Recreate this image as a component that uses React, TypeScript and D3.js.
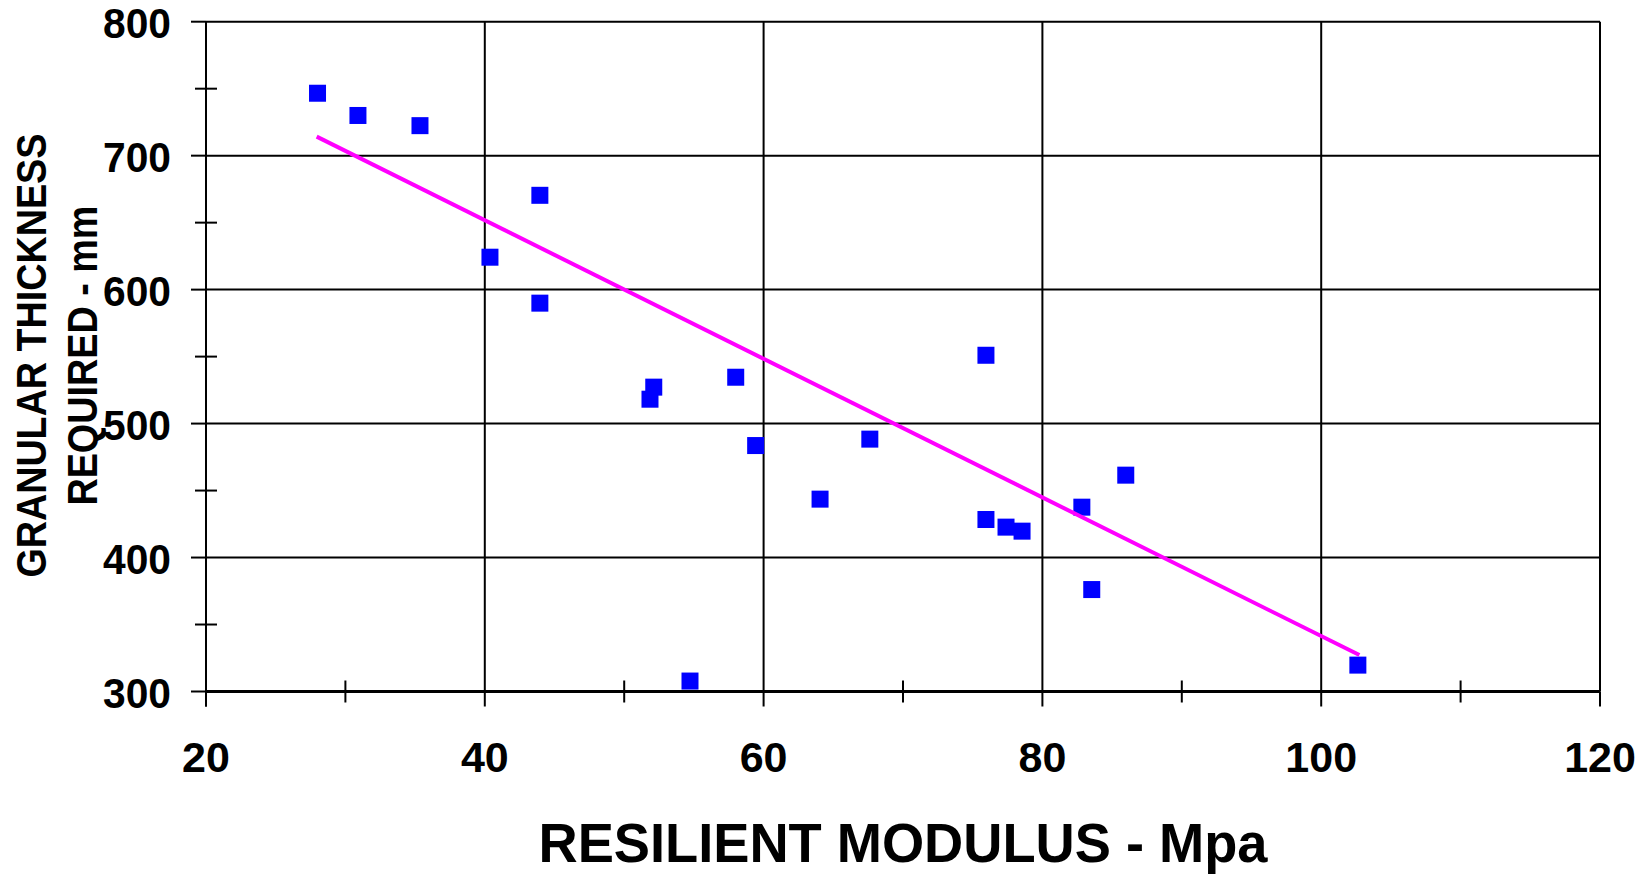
import React from "react";
import * as d3 from "d3";

const modulus = [28.0, 30.9, 35.35, 43.95, 40.37, 43.95, 52.12, 51.85, 58.0, 59.43, 67.62, 64.05, 75.95, 75.95, 77.39, 78.54, 54.72, 82.83, 85.98, 83.54, 102.63];
const thickness = [746.6, 730.0, 722.4, 670.4, 624.2, 589.9, 527.2, 518.2, 534.6, 483.6, 488.4, 443.6, 551.0, 428.4, 422.7, 419.7, 307.8, 437.6, 461.5, 376.1, 319.7];

const trendX = [27.94, 102.74];
const trendY = [714.2, 327.2];

const xMajorTicks = [20, 40, 60, 80, 100, 120];
const xMinorTicks = [30, 50, 70, 90, 110];
const yMajorTicks = [300, 400, 500, 600, 700, 800];
const yMinorTicks = [350, 450, 550, 650, 750];

const xTitle = "RESILIENT MODULUS - Mpa";
const yTitleLines = ["GRANULAR THICKNESS", "REQUIRED - mm"];

const W = 1646;
const H = 874;
const left = 206;
const right = 1600;
const top = 21.7;
const bottom = 691.5;

export default function App() {
  const x = d3.scaleLinear().domain([20, 120]).range([left, right]);
  const y = d3.scaleLinear().domain([300, 800]).range([bottom, top]);
  const line = d3
    .line<number>()
    .x((d, i) => x(trendX[i]))
    .y((d, i) => y(trendY[i]));
  const font = "'Liberation Sans', Arial, sans-serif";
  const ms = 17;

  return (
    <svg
      width={W}
      height={H}
      style={{ position: "absolute", left: 0, top: 0, background: "#fff" }}
      fontFamily={font}
      fontWeight="bold"
    >
      {yMajorTicks
        .filter((t) => t !== 300)
        .map((t) => (
          <line key={"hg" + t} x1={left} x2={right} y1={y(t)} y2={y(t)} stroke="#000" strokeWidth={2} />
        ))}
      {xMajorTicks
        .filter((t) => t !== 20)
        .map((t) => (
          <line key={"vg" + t} x1={x(t)} x2={x(t)} y1={top} y2={bottom} stroke="#000" strokeWidth={2} />
        ))}
      <line x1={left} x2={left} y1={top} y2={bottom + 15} stroke="#000" strokeWidth={2} />
      {yMajorTicks.map((t) => (
        <line key={"ymt" + t} x1={left - 15} x2={left} y1={y(t)} y2={y(t)} stroke="#000" strokeWidth={2} />
      ))}
      {yMinorTicks.map((t) => (
        <line key={"ymn" + t} x1={left - 11} x2={left + 11} y1={y(t)} y2={y(t)} stroke="#000" strokeWidth={2} />
      ))}
      <line x1={left} x2={right} y1={bottom} y2={bottom} stroke="#000" strokeWidth={3} />
      {xMajorTicks.map((t) => (
        <line key={"xmt" + t} x1={x(t)} x2={x(t)} y1={bottom} y2={bottom + 15} stroke="#000" strokeWidth={2} />
      ))}
      {xMinorTicks.map((t) => (
        <line key={"xmn" + t} x1={x(t)} x2={x(t)} y1={bottom - 11} y2={bottom + 11} stroke="#000" strokeWidth={2} />
      ))}
      {yMajorTicks.map((t) => (
        <text key={"yl" + t} x={171} y={y(t) + 16} textAnchor="end" fontSize={43} textLength={68} lengthAdjust="spacingAndGlyphs" fill="#000">
          {t}
        </text>
      ))}
      {xMajorTicks.map((t) => (
        <text key={"xl" + t} x={x(t)} y={772} textAnchor="middle" fontSize={43} fill="#000">
          {t}
        </text>
      ))}
      <text
        x={(left + right) / 2}
        y={862}
        textAnchor="middle"
        fontSize={56}
        textLength={729}
        lengthAdjust="spacingAndGlyphs"
        fill="#000"
      >
        {xTitle}
      </text>
      {yTitleLines.map((s, i) => (
        <text
          key={"yt" + i}
          transform={`translate(${i === 0 ? 46 : 97},${(top + bottom) / 2 - 1}) rotate(-90)`}
          textAnchor="middle"
          fontSize={42}
          textLength={i === 0 ? 444 : 300}
          lengthAdjust="spacingAndGlyphs"
          fill="#000"
        >
          {s}
        </text>
      ))}
      {modulus.map((m, i) => (
        <rect
          key={"p" + i}
          x={x(m) - ms / 2}
          y={y(thickness[i]) - ms / 2}
          width={ms}
          height={ms}
          fill="#0000FF"
        />
      ))}
      <path d={line(trendX) || ""} fill="none" stroke="#FF00FF" strokeWidth={4} />
    </svg>
  );
}
